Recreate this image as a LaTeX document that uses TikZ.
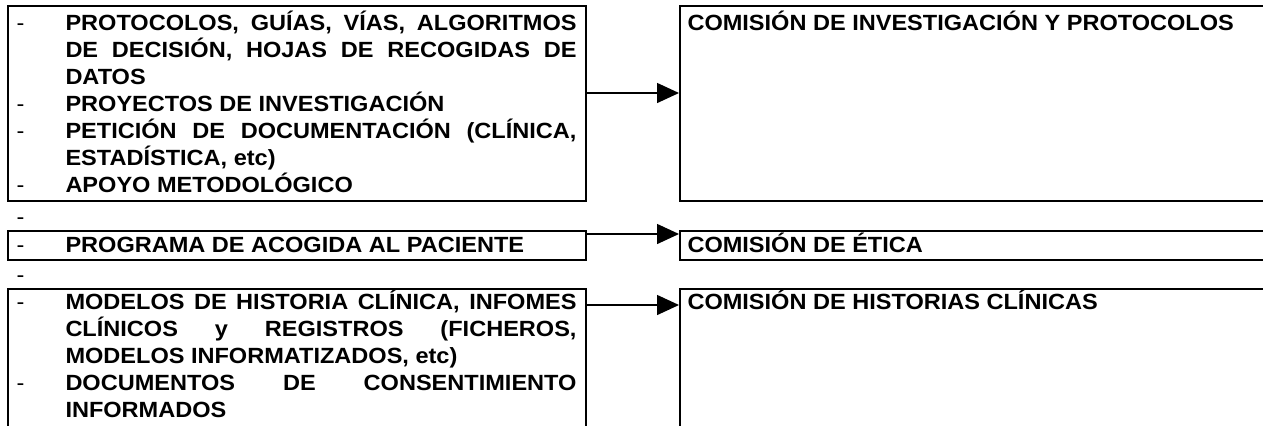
\documentclass[tikz,border=0pt]{standalone}
\usepackage{fontspec}
\setmainfont{Liberation Sans}[FakeStretch=1.07]
\usetikzlibrary{arrows.meta}
\hyphenpenalty=10000
\exhyphenpenalty=10000

\newcommand{\fuente}{\bfseries\fontsize{16.5}{20.25}\selectfont\lineskiplimit=-20pt\relax}
\newcommand{\guion}{\noindent\hangindent=36.75pt\hangafter=1\makebox[36.75pt][l]{\mdseries -}}

\tikzset{every picture/.style={line width=0.75pt}}
\tikzset{
  caja/.style={draw, line width=1.5pt, rectangle, inner sep=0pt, anchor=north west},
  texto/.style={inner sep=0pt, anchor=base west, font=\fuente},
  lista/.style={texto, text width=420pt, align=justify},
  flecha/.style={line width=1.1pt, -{Triangle[length=16.5pt,width=15pt]}}
}

\begin{document}
\begin{tikzpicture}[x=0.75pt,y=0.75pt,yscale=-1,xscale=1]
\useasboundingbox (0,0) rectangle (1263,425);
\clip (0,0) rectangle (1263,425);

% Left boxes
\node[caja, minimum width=433.5pt, minimum height=146.25pt] (izq1) at (7,5) {};
\node[caja, minimum width=433.5pt, minimum height=21.75pt] (izq2) at (7,230) {};
\node[caja, minimum width=433.5pt, minimum height=120pt] (izq3) at (7,288) {};
% Right boxes
\node[caja, minimum width=460pt, minimum height=146.25pt] (der1) at (679,5) {};
\node[caja, minimum width=460pt, minimum height=21.75pt] (der2) at (679,230) {};
\node[caja, minimum width=460pt, minimum height=120pt] (der3) at (679,288) {};

% Text Node
\node[lista] (lista1) at (16,30.5) {\guion PROTOCOLOS, GUÍAS, VÍAS, ALGORITMOS\linebreak DE DECISIÓN, HOJAS DE RECOGIDAS DE\linebreak DATOS\par
\guion PROYECTOS DE INVESTIGACIÓN\par
\guion PETICIÓN DE DOCUMENTACIÓN (CLÍNICA,\linebreak ESTADÍSTICA, etc)\par
\guion APOYO METODOLÓGICO\par};
\node[texto] (guion1) at (16,224) {\mdseries -};
\node[lista] (lista2) at (16,252) {\guion PROGRAMA DE ACOGIDA AL PACIENTE\par};
\node[texto] (guion2) at (16,282) {\mdseries -};
\node[lista] (lista3) at (16,309) {\guion MODELOS DE HISTORIA CLÍNICA, INFOMES\linebreak CLÍNICOS y REGISTROS (FICHEROS,\linebreak MODELOS INFORMATIZADOS, etc)\par
\guion DOCUMENTOS DE CONSENTIMIENTO\linebreak INFORMADOS\par};

% Text Node
\node[texto] (com1) at (687,30.5) {COMISIÓN DE INVESTIGACIÓN Y PROTOCOLOS};
\node[texto] (com2) at (687,252) {COMISIÓN DE ÉTICA};
\node[texto] (com3) at (687,309) {COMISIÓN DE HISTORIAS CLÍNICAS};

% Connection
\draw[flecha] (izq1.east |- 0,93) -- (der1.west |- 0,93);
\draw[flecha] (izq2.east |- 0,234) -- (der2.west |- 0,234);
\draw[flecha] (izq3.east |- 0,305) -- (der3.west |- 0,305);

\end{tikzpicture}
\end{document}
